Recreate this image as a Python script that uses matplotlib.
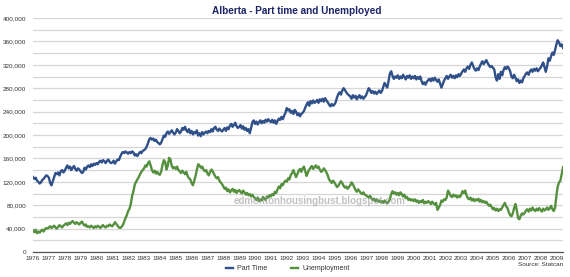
import matplotlib
matplotlib.use("Agg")
import matplotlib.pyplot as plt
from matplotlib.ticker import FuncFormatter, MultipleLocator
import numpy as np

plt.rcParams['font.family'] = ['Liberation Sans', 'DejaVu Sans']

# Monthly values in thousands, Jan 1976 - Jun 2009
part_time_k = [
    128, 125, 127, 122, 120, 117, 119, 123, 125, 128, 131, 130,  # 1976
    127, 118, 114, 121, 128, 135, 133, 136, 131, 138, 140, 136,  # 1977
    139, 144, 148, 143, 146, 140, 144, 147, 142, 139, 143, 141,  # 1978
    138, 135, 137, 144, 141, 146, 148, 145, 150, 147, 151, 149,  # 1979
    152, 150, 154, 156, 153, 157, 155, 152, 156, 158, 154, 152,  # 1980
    153, 156, 151, 155, 158, 157, 163, 168, 171, 169, 172, 170,  # 1981
    168, 171, 169, 172, 170, 165, 167, 164, 168, 171, 169, 173,  # 1982
    174, 176, 180, 186, 193, 195, 192, 194, 190, 192, 188, 186,  # 1983
    184, 187, 193, 199, 197, 203, 206, 202, 205, 208, 204, 201,  # 1984
    204, 210, 207, 203, 206, 212, 209, 214, 208, 205, 210, 203,  # 1985
    207, 201, 205, 203, 208, 199, 203, 198, 205, 201, 204, 206,  # 1986
    203, 207, 205, 210, 206, 212, 214, 209, 207, 211, 208, 206,  # 1987
    209, 212, 207, 213, 210, 216, 219, 214, 217, 221, 215, 212,  # 1988
    214, 217, 211, 215, 209, 212, 207, 210, 203, 212, 222, 225,  # 1989
    219, 223, 218, 222, 225, 220, 224, 221, 226, 223, 227, 224,  # 1990
    222, 226, 221, 225, 219, 224, 228, 226, 231, 227, 233, 238,  # 1991
    246, 242, 244, 238, 241, 236, 243, 240, 234, 237, 232, 236,  # 1992
    238, 241, 247, 252, 256, 250, 258, 254, 259, 255, 257, 260,  # 1993
    255, 261, 258, 262, 257, 263, 259, 256, 252, 249, 253, 250,  # 1994
    252, 256, 264, 270, 273, 269, 276, 280, 277, 273, 270, 268,  # 1995
    266, 262, 268, 264, 267, 261, 265, 268, 263, 266, 262, 265,  # 1996
    268, 274, 280, 277, 272, 275, 271, 274, 270, 273, 276, 272,  # 1997
    275, 282, 289, 285, 281, 292, 305, 309, 301, 296, 300, 298,  # 1998
    302, 296, 300, 297, 303, 299, 295, 301, 298, 302, 296, 300,  # 1999
    297, 301, 295, 299, 296, 300, 292, 287, 290, 286, 291, 294,  # 2000
    296, 292, 297, 293, 298, 294, 291, 295, 288, 281, 287, 293,  # 2001
    297, 301, 296, 300, 303, 298, 301, 297, 302, 299, 304, 301,  # 2002
    305, 309, 312, 308, 314, 317, 313, 320, 324, 318, 313, 310,  # 2003
    314, 311, 317, 322, 326, 321, 325, 328, 323, 319, 316, 318,  # 2004
    315, 312, 299, 293, 304, 296, 308, 302, 311, 316, 313, 317,  # 2005
    314, 309, 300, 297, 303, 298, 292, 295, 289, 293, 290, 297,  # 2006
    301, 305, 307, 303, 309, 312, 308, 313, 310, 314, 309, 312,  # 2007
    315, 319, 324, 316, 308, 318, 331, 327, 335, 341, 337, 345,  # 2008
    355, 362, 358, 352, 355, 349,                                # 2009
]

unemployment_k = [
    37, 34, 38, 32, 35, 33, 36, 38, 35, 39, 41, 40,              # 1976
    42, 44, 41, 43, 45, 42, 40, 43, 46, 44, 42, 45,              # 1977
    47, 49, 46, 50, 48, 51, 53, 50, 48, 51, 49, 47,              # 1978
    50, 52, 48, 45, 47, 43, 44, 42, 45, 43, 41, 44,              # 1979
    42, 45, 43, 41, 44, 46, 43, 42, 45, 44, 47, 45,              # 1980
    44, 47, 51, 48, 45, 42, 41, 43, 46, 52, 58, 63,              # 1981
    70, 74, 82, 96, 104, 115, 120, 124, 128, 133, 137, 140,      # 1982
    143, 148, 146, 152, 155, 148, 140, 136, 139, 134, 137, 133,  # 1983
    132, 138, 149, 157, 154, 141, 148, 161, 158, 147, 143, 145,  # 1984
    142, 146, 140, 138, 135, 139, 136, 133, 137, 130, 126, 124,  # 1985
    118, 114, 122, 130, 141, 150, 148, 144, 146, 141, 138, 140,  # 1986
    134, 131, 137, 141, 138, 133, 129, 126, 128, 122, 119, 116,  # 1987
    112, 108, 110, 104, 107, 102, 105, 108, 103, 106, 101, 104,  # 1988
    106, 103, 100, 105, 102, 98, 101, 97, 99, 95, 98, 94,        # 1989
    92, 89, 93, 87, 90, 88, 94, 91, 89, 95, 93, 97,              # 1990
    95, 99, 97, 103, 101, 107, 112, 109, 116, 114, 119, 122,     # 1991
    120, 126, 124, 131, 135, 140, 134, 128, 133, 139, 142, 137,  # 1992
    143, 146, 138, 130, 136, 141, 144, 147, 142, 145, 148, 144,  # 1993
    146, 141, 137, 139, 143, 140, 136, 131, 124, 121, 118, 122,  # 1994
    119, 115, 111, 113, 117, 121, 118, 113, 110, 112, 108, 111,  # 1995
    114, 119, 116, 111, 106, 103, 107, 104, 101, 99, 102, 98,    # 1996
    97, 95, 93, 96, 92, 89, 91, 87, 90, 86, 88, 85,              # 1997
    87, 84, 88, 85, 83, 86, 90, 99, 104, 100, 102, 98,           # 1998
    101, 97, 102, 99, 95, 98, 92, 94, 89, 91, 88, 90,            # 1999
    87, 90, 86, 88, 84, 87, 85, 89, 83, 86, 84, 87,              # 2000
    85, 82, 86, 83, 81, 84, 72, 76, 80, 88, 86, 90,              # 2001
    89, 93, 105, 101, 96, 94, 98, 95, 97, 93, 96, 94,            # 2002
    98, 104, 101, 105, 97, 92, 90, 93, 88, 91, 87, 90,           # 2003
    88, 91, 86, 89, 85, 87, 84, 86, 82, 79, 81, 77,              # 2004
    73, 75, 71, 74, 70, 73, 72, 76, 80, 84, 78, 75,              # 2005
    68, 63, 61, 66, 75, 82, 72, 58, 56, 62, 66, 64,              # 2006
    67, 71, 73, 69, 74, 71, 76, 72, 70, 74, 71, 75,              # 2007
    72, 69, 74, 71, 73, 76, 72, 75, 79, 73, 70, 76,              # 2008
    96, 112, 119, 122, 133, 145,                                 # 2009
]

years = list(range(1976, 2010))
series_names = ["Part Time", "Unemployment"]
title = "Alberta - Part time and Unemployed"
source = "Source: Statcan"
watermark = "edmontonhousingbust.blogspot.com"

part_time = np.array(part_time_k) * 1000
unemployment = np.array(unemployment_k) * 1000
months = np.arange(len(part_time))

BLUE = "#2f5089"
GREEN = "#55903f"

fig = plt.figure(figsize=(5.7, 2.77), dpi=100)
ax = fig.add_axes([33/570, 1-252/277, 530/570, 234/277])

ax.plot(months, part_time, color=BLUE, lw=1.7, solid_joinstyle='round', label=series_names[0], zorder=3)
ax.plot(months, unemployment, color=GREEN, lw=1.7, solid_joinstyle='round', label=series_names[1], zorder=3)

ax.set_xlim(0, len(months) - 1)
ax.set_ylim(0, 400000)
ax.yaxis.set_major_locator(MultipleLocator(40000))
ax.yaxis.set_minor_locator(MultipleLocator(20000))
ax.yaxis.set_major_formatter(FuncFormatter(lambda v, p: f"{int(v):,}"))
ax.grid(True, axis='y', which='both', color='#d6d6d6', lw=0.9, zorder=0)
ax.set_axisbelow(True)

ax.set_xticks([(y - 1976) * 12 for y in years])
ax.set_xticklabels([str(y) for y in years])

for s in ['top', 'right', 'left']:
    ax.spines[s].set_visible(False)
ax.spines['bottom'].set_color('#555555')
ax.spines['bottom'].set_linewidth(0.9)
ax.tick_params(axis='both', which='both', length=0, colors='#333333')
ax.tick_params(axis='y', labelsize=4.6, pad=5)
ax.tick_params(axis='x', labelsize=4.6, pad=3)

ax.text(0.5415, 0.218, watermark, transform=ax.transAxes, ha='center', va='center',
        fontsize=7, fontweight='bold', color='#9a9a9a', alpha=0.6, zorder=4)

fig.text(0.52, 0.962, title, ha='center', va='center', fontsize=7.2,
         fontweight='bold', color='#1c2566')

leg = fig.legend(loc='center', bbox_to_anchor=(0.505, 1-268.5/277), ncol=2, frameon=False,
                 fontsize=5, handlelength=1.0, handletextpad=0.6, columnspacing=3.5)
for t in leg.get_texts():
    t.set_color('#333333')

fig.text(563/570, 1-265/277, source, ha='right', va='center', fontsize=4.6, color='#333333')

fig.savefig("out.png", dpi=100)
